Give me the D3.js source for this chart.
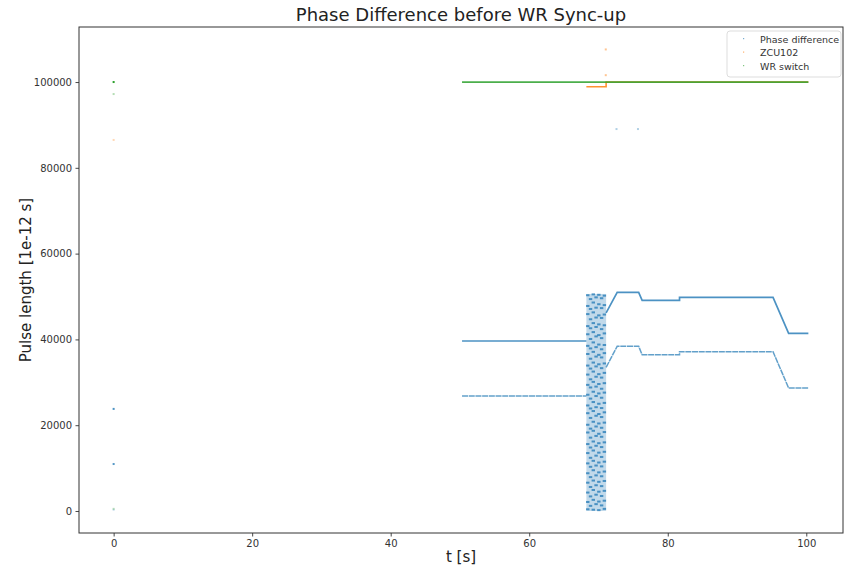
<!DOCTYPE html>
<html><head><meta charset="utf-8">
<script src="https://cdn.jsdelivr.net/npm/d3@7"></script>
<style>body{margin:0;background:#fff;font-family:"DejaVu Sans",sans-serif;}</style>
</head><body><svg id="c" width="850" height="568"></svg>
<script>
// ---- data ----
const xTicks = [0, 20, 40, 60, 80, 100];
const yTicks = [0, 20000, 40000, 60000, 80000, 100000];
const seriesNames = ["Phase difference", "ZCU102", "WR switch"];
const colors = ["#1f77b4", "#ff7f0e", "#2ca02c"];

// WR switch
const wrT = [50.3, 100.3];
const wrV = [100000, 100000];
const wrPtsT = [0, 0, 0];
const wrPtsV = [100000, 97200, 500];

// ZCU102
const zcuT = [68.25, 71.1, 71.1, 100.3];
const zcuV = [98900, 98900, 100000, 100000];
const zcuPtsT = [0, 71.05, 71.05];
const zcuPtsV = [86500, 107600, 101600];

// Phase difference (alternates between two levels)
const phaseT     = [50.3, 68.25, 69.7, 71.1, 72.7, 75.8, 76.3, 81.7, 81.7, 95.2, 97.45, 100.3];
const phaseUpper = [39630, 39630, null, 46200, 50980, 50980, 49110, 49110, 49810, 49810, 41420, 41420];
const phaseLower = [26800, 26800, null, 33500, 38390, 38390, 36430, 36430, 37130, 37130, 28670, 28670];
const phasePtsT = [0, 0, 0, 72.6, 75.7];
const phasePtsV = [23800, 10950, 300, 89040, 89040];
// unsynchronised burst
const burstT = [68.25, 71.1];
const burstV = [0, 50600];
const burstCols = [68.45, 68.85, 69.25, 69.65, 70.05, 70.45, 70.85];
const burstVals = [
  [50300, 47800, 45900, 43100, 41200, 38500, 36600, 33900, 31800, 29400, 27100, 24600, 22800, 20100, 18300, 15600, 13500, 11100, 8800, 6600, 4300, 2100, 400],
  [49400, 47100, 44700, 42600, 40100, 37900, 35500, 33200, 30700, 28800, 26200, 23900, 21700, 19200, 17100, 14800, 12400, 10300, 7900, 5600, 3400, 1200],
  [50500, 48600, 46300, 43800, 41700, 39300, 37100, 34600, 32500, 30100, 27800, 25400, 23300, 20800, 18700, 16200, 14100, 11700, 9500, 7100, 4900, 2600, 300],
  [49800, 47400, 45100, 42900, 40700, 38200, 36000, 33700, 31300, 29000, 26800, 24200, 22200, 19700, 17500, 15200, 12900, 10600, 8300, 6000, 3800, 1600],
  [50400, 48200, 45600, 43500, 41000, 38800, 36400, 34200, 31900, 29600, 27400, 25000, 22600, 20400, 18000, 15800, 13600, 11300, 9000, 6800, 4500, 2200, 200],
  [49600, 47300, 45000, 42400, 40300, 37700, 35800, 33300, 31100, 28500, 26400, 24000, 21900, 19400, 17300, 14900, 12600, 10400, 8100, 5800, 3500, 1300],
  [50200, 48000, 45800, 43300, 41400, 38700, 36800, 34400, 32200, 29800, 27600, 25200, 23000, 20600, 18400, 16000, 13800, 11500, 9200, 7000, 4700, 2400, 500]
];

// ---- layout ----
const svg = d3.select("#c");
const L = 79, R = 843, T = 27, B = 533;
const x = d3.scaleLinear().domain([-5, 105.3]).range([L, R]);
const y = d3.scaleLinear().domain([-5130, 112830]).range([B, T]);

// title & labels
svg.append("text").attr("x", (L + R) / 2).attr("y", 21).attr("text-anchor", "middle")
  .attr("font-size", 18).attr("fill", "#222").text("Phase Difference before WR Sync-up");
svg.append("text").attr("x", (L + R) / 2).attr("y", 562).attr("text-anchor", "middle")
  .attr("font-size", 15).attr("fill", "#222").text("t [s]");
svg.append("text").attr("transform", `translate(31,${(T + B) / 2}) rotate(-90)`).attr("text-anchor", "middle")
  .attr("font-size", 15).attr("fill", "#222").text("Pulse length [1e-12 s]");

// clip
svg.append("clipPath").attr("id", "clip").append("rect").attr("x", L).attr("y", T).attr("width", R - L).attr("height", B - T);
const g = svg.append("g").attr("clip-path", "url(#clip)");

// burst band
g.append("rect").attr("x", x(burstT[0])).attr("y", y(burstV[1]))
  .attr("width", x(burstT[1]) - x(burstT[0])).attr("height", y(burstV[0]) - y(burstV[1]))
  .attr("fill", colors[0]).attr("opacity", 0.28);
burstCols.forEach((t, i) => {
  burstVals[i].forEach(v => {
    g.append("rect").attr("x", x(t) - 1.7).attr("y", y(v) - 1).attr("width", 3.4).attr("height", 2)
      .attr("fill", colors[0]).attr("opacity", 0.75);
  });
});

const line = d3.line().defined(d => d[1] !== null).x(d => x(d[0])).y(d => y(d[1]));
const zip = (a, b) => a.map((t, i) => [t, b[i]]);

// phase lines
g.append("path").datum(zip(phaseT, phaseUpper)).attr("d", line).attr("fill", "none")
  .attr("stroke", colors[0]).attr("stroke-width", 1.7).attr("opacity", 0.8);
g.append("path").datum(zip(phaseT, phaseLower)).attr("d", line).attr("fill", "none")
  .attr("stroke", colors[0]).attr("stroke-width", 1.5).attr("stroke-dasharray", "6,0.7").attr("opacity", 0.7);
// zcu
g.append("path").datum(zip(zcuT, zcuV)).attr("d", line).attr("fill", "none")
  .attr("stroke", colors[1]).attr("stroke-width", 1.6).attr("opacity", 0.85);
// wr
g.append("path").datum(zip(wrT, wrV)).attr("d", line).attr("fill", "none")
  .attr("stroke", colors[2]).attr("stroke-width", 1.8).attr("opacity", 0.85);

// scattered points
function pts(ts, vs, c, op) {
  ts.forEach((t, i) => {
    g.append("rect").attr("x", x(t) - 1).attr("y", y(vs[i]) - 1).attr("width", 2).attr("height", 2)
      .attr("fill", c).attr("opacity", op[i]);
  });
}
pts(phasePtsT, phasePtsV, colors[0], [0.8, 0.75, 0.25, 0.35, 0.35]);
pts(zcuPtsT, zcuPtsV, colors[1], [0.3, 0.45, 0.45]);
pts(wrPtsT, wrPtsV, colors[2], [1, 0.35, 0.3]);

// axes
const ax = svg.append("g").attr("transform", `translate(0,${B})`)
  .call(d3.axisBottom(x).tickValues(xTicks).tickSize(3.5).tickPadding(3.5).tickFormat(d3.format("d")));
const ay = svg.append("g").attr("transform", `translate(${L},0)`)
  .call(d3.axisLeft(y).tickValues(yTicks).tickSize(3.5).tickPadding(3.5).tickFormat(d3.format("d")));
[ax, ay].forEach(a => {
  a.select(".domain").remove();
  a.selectAll("line").attr("stroke", "#333").attr("stroke-width", 0.9);
  a.selectAll("text").attr("font-size", 10).attr("fill", "#333").attr("font-family", "DejaVu Sans");
});
svg.append("rect").attr("x", L).attr("y", T).attr("width", R - L).attr("height", B - T)
  .attr("fill", "none").attr("stroke", "#333").attr("stroke-width", 1);

// legend
const lg = svg.append("g").attr("transform", "translate(727,31)");
lg.append("rect").attr("width", 114).attr("height", 46).attr("rx", 3)
  .attr("fill", "#fff").attr("fill-opacity", 0.8).attr("stroke", "#ddd");
seriesNames.forEach((n, i) => {
  lg.append("rect").attr("x", 16).attr("y", 7 + i * 13.5).attr("width", 1.2).attr("height", 1.2)
    .attr("fill", colors[i]).attr("opacity", 0.6);
  lg.append("text").attr("x", 33).attr("y", 11.5 + i * 13.5).attr("font-size", 9.5).attr("fill", "#333").text(n);
});
</script></body></html>
